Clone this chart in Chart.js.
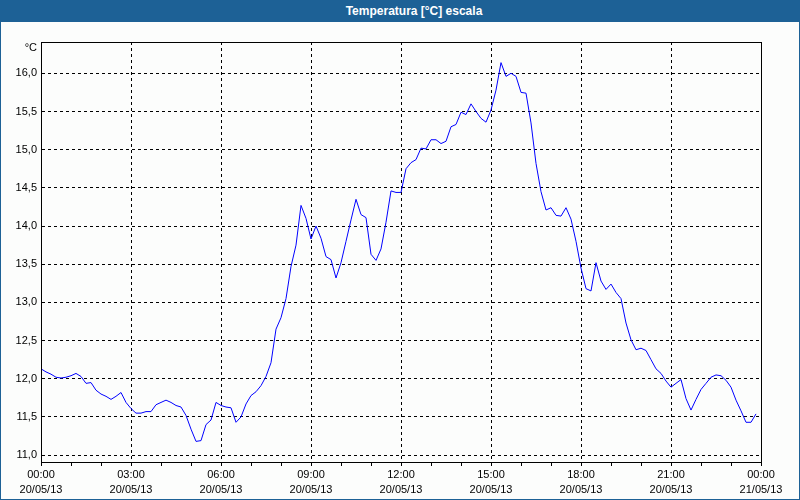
<!DOCTYPE html>
<html>
<head>
<meta charset="utf-8">
<script src="https://cdn.jsdelivr.net/npm/chart.js@4.4.1/dist/chart.umd.min.js"></script>
<style>
  html, body { margin: 0; padding: 0; background: #fcfdfc; }
  #frame { position: absolute; left: 0; top: 0; width: 800px; height: 500px; box-sizing: border-box; border: 1px solid #1d6196; background: #fcfdfc; }
  #title { position: absolute; left: 0; top: 0; width: 800px; height: 21px; background: #1d6196; color: #fff;
           font: bold 12px "Liberation Sans", Arial, sans-serif; line-height: 21px; text-align: center; box-sizing: border-box; padding-left: 26px; }
  #myChart { position: absolute; left: 0; top: 21px; }
</style>
</head>
<body>
<div id="frame">
  <div id="title">Temperatura [°C] escala</div>
  <canvas id="myChart" width="800" height="478"></canvas>
</div>
<script>
// readings every 10 minutes, starting 20/05/13 00:00
const intervalMinutes = 10;
const temperatures = [
  12.13, 12.09, 12.06, 12.02, 12.01, 12.02, 12.04, 12.07, 12.03, 11.94,
  11.95, 11.85, 11.80, 11.77, 11.73, 11.77, 11.82, 11.69, 11.61, 11.55,
  11.55, 11.57, 11.57, 11.66, 11.69, 11.72, 11.69, 11.65, 11.63, 11.52,
  11.34, 11.18, 11.19, 11.40, 11.46, 11.69, 11.65, 11.63, 11.62, 11.43,
  11.50, 11.67, 11.78, 11.83, 11.91, 12.03, 12.21, 12.65, 12.80, 13.05,
  13.47, 13.75, 14.27, 14.10, 13.83, 14.00, 13.84, 13.60, 13.56, 13.32,
  13.52, 13.80, 14.08, 14.35, 14.15, 14.11, 13.63, 13.55, 13.70, 14.05,
  14.46, 14.44, 14.44, 14.75, 14.83, 14.87, 15.02, 15.01, 15.13, 15.13,
  15.08, 15.11, 15.30, 15.33, 15.49, 15.46, 15.60, 15.50, 15.41, 15.36,
  15.52, 15.78, 16.14, 15.96, 16.00, 15.96, 15.75, 15.74, 15.35, 14.82,
  14.45, 14.21, 14.24, 14.14, 14.13, 14.24, 14.09, 13.80, 13.45, 13.18,
  13.15, 13.52, 13.28, 13.17, 13.24, 13.13, 13.05, 12.73, 12.51, 12.38,
  12.40, 12.37, 12.25, 12.13, 12.07, 11.97, 11.89, 11.94, 11.99, 11.74,
  11.59, 11.73, 11.86, 11.94, 12.02, 12.05, 12.04, 11.98, 11.89, 11.72,
  11.58, 11.43, 11.43, 11.54
];

// x axis labels (every 3 hours)
const tickTimes = ["00:00", "03:00", "06:00", "09:00", "12:00", "15:00", "18:00", "21:00", "00:00"];
const tickDates = ["20/05/13", "20/05/13", "20/05/13", "20/05/13", "20/05/13", "20/05/13", "20/05/13", "20/05/13", "21/05/13"];
// y axis ticks
const yTicks = [11.0, 11.5, 12.0, 12.5, 13.0, 13.5, 14.0, 14.5, 15.0, 15.5, 16.0];
const unitLabel = "°C";

const points = temperatures.map((t, i) => ({ x: i * intervalMinutes, y: t }));

Chart.defaults.font.family = '"Liberation Sans", Arial, sans-serif';
Chart.defaults.font.size = 11;
Chart.defaults.color = "#000";

// box around the plot + unit label
const framePlugin = {
  id: "frame",
  afterDraw(chart) {
    const { ctx, chartArea: a } = chart;
    ctx.save();
    ctx.strokeStyle = "#000";
    ctx.lineWidth = 1;
    ctx.strokeRect(Math.round(a.left) + 0.5, Math.round(a.top) + 0.5,
      Math.round(a.right - a.left), Math.round(a.bottom - a.top));
    ctx.font = '11px "Liberation Sans", Arial, sans-serif';
    ctx.fillStyle = "#000";
    ctx.textAlign = "right";
    ctx.textBaseline = "middle";
    ctx.fillText(unitLabel, a.left - 4, a.top + 6);
    ctx.restore();
  }
};

const ctx = document.getElementById("myChart").getContext("2d");

new Chart(ctx, {
  type: "line",
  data: {
    datasets: [
      {
        label: "Temperatura",
        data: points,
        borderColor: "#0000ff",
        borderWidth: 1,
        pointRadius: 0,
        tension: 0,
        fill: false,
      },
    ],
  },
  options: {
    responsive: false,
    animation: false,
    layout: { padding: { top: 20, left: 0, right: 40, bottom: 0 } },
    plugins: {
      legend: { display: false },
      title: { display: false },
      tooltip: { enabled: false },
    },
    scales: {
      x: {
        type: "linear",
        min: 0,
        max: 1440,
        afterFit: (scale) => { scale.height = 38; },
        ticks: {
          stepSize: 60,
          autoSkip: false,
          maxRotation: 0,
          padding: 1,
          font: { size: 11, lineHeight: 1.4 },
          callback: (v) => {
            if (v % 180 !== 0) return "";
            const i = v / 180;
            return [tickTimes[i], tickDates[i]];
          },
        },
        grid: {
          color: (c) => (c.tick && c.tick.value % 180 === 0 ? "#000" : "rgba(0,0,0,0)"),
          tickColor: "#000",
          tickLength: 4,
        },
        border: { display: true, color: "#000", dash: [3, 3] },
      },
      y: {
        min: 10.91,
        max: 16.41,
        afterFit: (scale) => { scale.width = 40; },
        afterBuildTicks: (scale) => { scale.ticks = yTicks.map((v) => ({ value: v })); },
        ticks: {
          padding: 4,
          callback: (v) => v.toFixed(1).replace(".", ","),
        },
        grid: { color: "#000", drawTicks: false },
        border: { display: true, color: "#000", dash: [3, 3] },
      },
    },
  },
  plugins: [framePlugin],
});
</script>
</body>
</html>
